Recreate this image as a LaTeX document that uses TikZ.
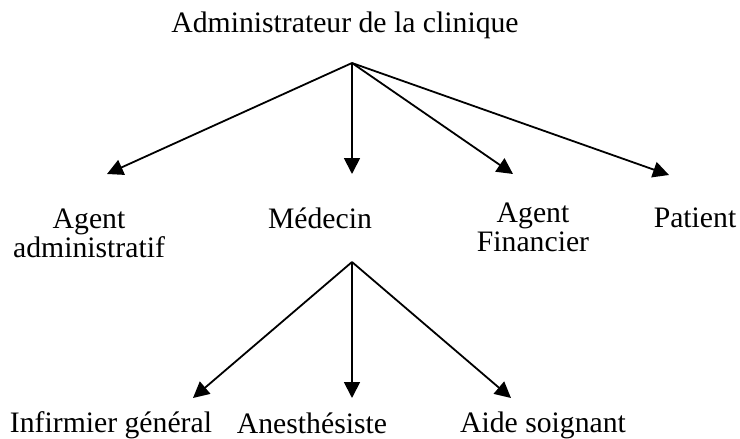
\documentclass[tikz,border=0pt]{standalone}
\usepackage{fontspec}
\setmainfont{Liberation Serif}
\usetikzlibrary{arrows.meta}
\begin{document}
\begin{tikzpicture}[x=1pt,y=-1pt,
  lbl/.style={font=\fontsize{29.7}{29}\selectfont, align=center, inner sep=0pt, anchor=base},
  link/.style={line width=1.8pt, -{Triangle[length=16pt,width=16pt]}}]
\useasboundingbox (0,0) rectangle (740,439);

% labels (two-line labels are placed by the baseline of their last line)
\node[lbl] (admin) at (345,32) {Administrateur de la clinique};
\node[lbl] (agadm) at (89,257) {Agent\\administratif};
\node[lbl] (med)   at (320,228) {Médecin};
\node[lbl] (agfin) at (533,251) {Agent\\Financier};
\node[lbl] (pat)   at (695,227) {Patient};
\node[lbl] (inf)   at (111,432) {Infirmier général};
\node[lbl] (anes)  at (312,433.5) {Anesthésiste};
\node[lbl] (aide)  at (543,432) {Aide soignant};

% branching points and arrow ends
\coordinate (hubA) at (352,63);
\coordinate (hubM) at (352,262);
\coordinate (toAgadm) at (107,174);
\coordinate (toMed)   at (352,174);
\coordinate (toAgfin) at (513,174);
\coordinate (toPat)   at (669,175);
\coordinate (toInf)   at (193,398);
\coordinate (toAnes)  at (352,398);
\coordinate (toAide)  at (511,398);

% connectors
\draw[link] (hubA) -- (toAgadm);
\draw[link] (hubA) -- (toMed);
\draw[link] (hubA) -- (toAgfin);
\draw[link] (hubA) -- (toPat);
\draw[link] (hubM) -- (toInf);
\draw[link] (hubM) -- (toAnes);
\draw[link] (hubM) -- (toAide);
\end{tikzpicture}
\end{document}
